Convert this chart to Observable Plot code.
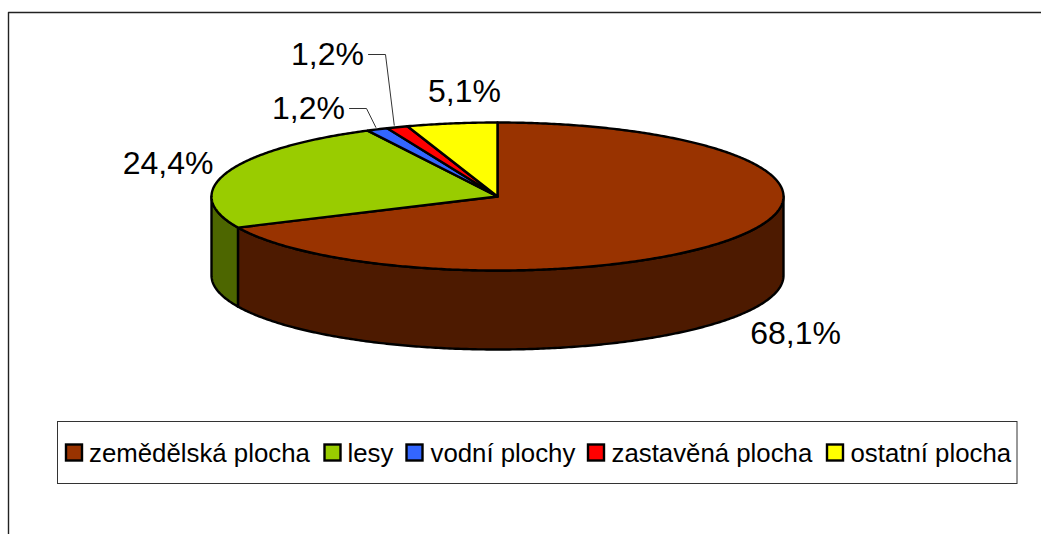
<!DOCTYPE html>
<html>
<head>
<meta charset="utf-8">
<style>html,body{margin:0;padding:0;background:#fff}svg{display:block}</style>
<script src="https://cdn.jsdelivr.net/npm/d3@7"></script>
<script src="https://cdn.jsdelivr.net/npm/@observablehq/plot@0.6"></script>
</head>
<body>
<div id="chart"></div>
<script>
// Data
const categories = ["zemědělská plocha", "lesy", "vodní plochy", "zastavěná plocha", "ostatní plocha"];
const shares = [68.1, 24.4, 1.2, 1.2, 5.1];
const shareLabels = ["68,1%", "24,4%", "1,2%", "1,2%", "5,1%"];
const topColors = ["#993300", "#99cc00", "#3366ff", "#ff0000", "#ffff00"];
const sideColors = ["#4d1a00", "#4d6600", "#1a3380", "#800000", "#808000"];

// Pie geometry
const cx = 497, cy = 196, rx = 286, ry = 74, depth = 79;
const rim = (t, dy = 0) => ({x: cx + rx * Math.sin(t), y: cy - ry * Math.cos(t) + dy});
const arcAngles = (a, b) => {
  const n = Math.max(2, Math.ceil((b - a) / 0.01));
  return d3.range(n + 1).map(i => a + (b - a) * i / n);
};

// Slice angles derived from the values
let acc = 0;
const total = d3.sum(shares);
const slices = categories.map((c, i) => {
  const a = acc / total * 2 * Math.PI;
  acc += shares[i];
  return {category: c, a, b: acc / total * 2 * Math.PI, i};
});

const topPts = slices.flatMap(s => [
  {key: s.category, x: cx, y: cy},
  ...arcAngles(s.a, s.b).map(t => ({key: s.category, ...rim(t)}))
]);

// Visible wall: the front half of the rim (angles PI/2 .. 3PI/2)
const sidePts = slices.flatMap(s => {
  const a = Math.max(s.a, Math.PI / 2), b = Math.min(s.b, 3 * Math.PI / 2);
  if (b <= a) return [];
  const ts = arcAngles(a, b);
  const key = s.category + " bok";
  return [
    ...ts.map(t => ({key, ...rim(t)})),
    ...ts.slice().reverse().map(t => ({key, ...rim(t, depth)}))
  ];
});

// Label placement
const labelPos = [[795, 333], [167.5, 163], [308, 108], [327, 54], [464, 91]];
const labels = shareLabels.map((text, i) => ({text, x: labelPos[i][0], y: labelPos[i][1]}));

// Leader lines: from next to the label, via an elbow, to the slice's rim
const leaderStart = {2: [[349, 108], [366, 108]], 3: [[368, 54], [385, 54]]};
const leaderShift = {2: -1.5, 3: -3};
const leaders = Object.entries(leaderStart).flatMap(([i, pts]) => {
  const s = slices[+i];
  const end = rim((s.a + s.b) / 2);
  return [...pts.map(([x, y]) => ({key: i, x, y})), {key: i, x: end.x + leaderShift[i], y: end.y - 2}];
});

// Legend placement
const swatchX = [66, 324.5, 406.5, 588, 827];
const textX = [88.5, 347, 430, 611, 850];
const legendY = 453;
const legend = categories.map((c, i) => ({category: c, sx: swatchX[i], tx: textX[i]}));

const font = "'Liberation Sans', Arial, sans-serif";

const chart = Plot.plot({
  width: 1041, height: 534,
  margin: 0,
  style: {background: "#fff", fontFamily: font, overflow: "hidden"},
  x: {domain: [0, 1041], range: [0, 1041], axis: null},
  y: {domain: [0, 534], range: [0, 534], axis: null},
  color: {
    domain: [...categories, ...categories.map(c => c + " bok")],
    range: [...topColors, ...sideColors]
  },
  marks: [
    // outer frame
    Plot.line([{x: 8, y: 534}, {x: 8, y: 12}, {x: 1041, y: 12}], {x: "x", y: "y", stroke: "#222", strokeWidth: 1.4}),
    // legend box
    Plot.rect([{}], {x1: () => 57.5, x2: () => 1017, y1: () => 421.5, y2: () => 483.5, fill: "#fff", stroke: "#333", strokeWidth: 1}),
    // pie
    Plot.line(sidePts, {x: "x", y: "y", z: "key", fill: "key", stroke: "#000", strokeWidth: 2.4, strokeLinejoin: "round", curve: "linear-closed"}),
    Plot.line(topPts, {x: "x", y: "y", z: "key", fill: "key", stroke: "#000", strokeWidth: 2.4, strokeLinejoin: "round", curve: "linear-closed"}),
    // leaders
    Plot.line(leaders, {x: "x", y: "y", z: "key", stroke: "#333", strokeWidth: 1}),
    // labels
    Plot.text(labels, {x: "x", y: "y", text: "text", fontSize: 32, fill: "#000", textAnchor: "middle", lineAnchor: "middle"}),
    // legend
    Plot.rect(legend, {x1: "sx", x2: d => d.sx + 16, y1: () => legendY - 8.5, y2: () => legendY + 7.5, fill: "category", stroke: "#000", strokeWidth: 2.4}),
    Plot.text(legend, {x: "tx", y: () => legendY, text: "category", fontSize: 25.8, fill: "#000", textAnchor: "start", lineAnchor: "middle"})
  ]
});
document.getElementById("chart").appendChild(chart);
</script>
</body>
</html>
